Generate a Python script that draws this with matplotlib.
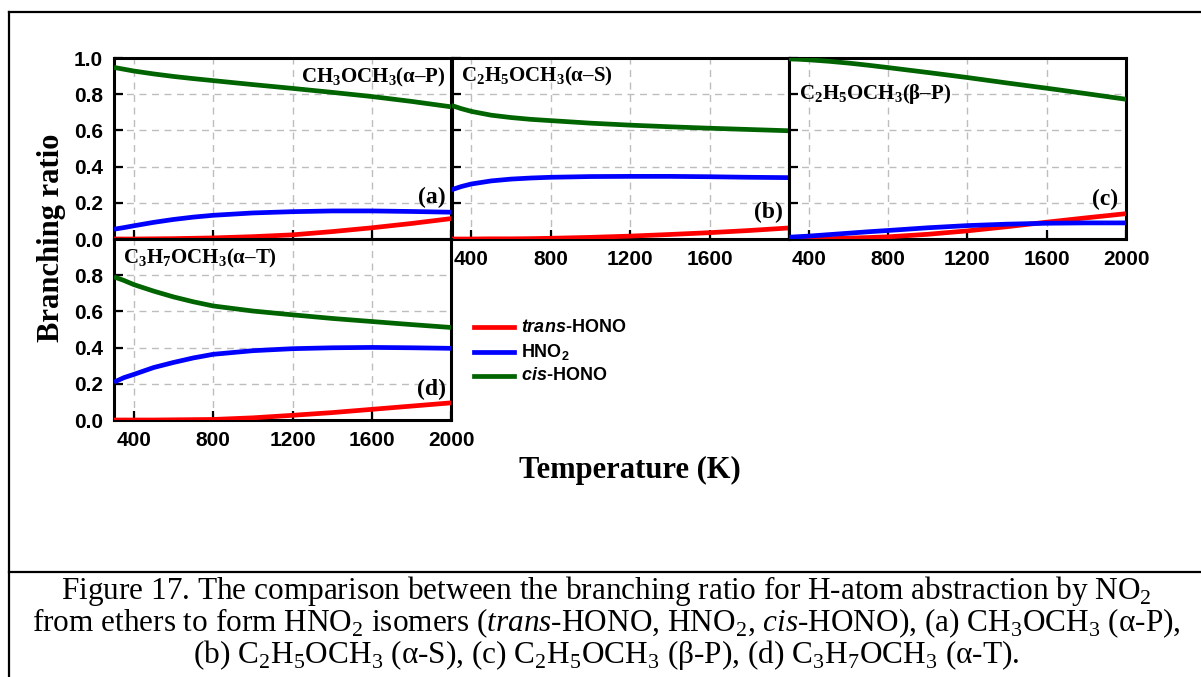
import matplotlib

matplotlib.use("Agg")
import matplotlib.pyplot as plt
from matplotlib.lines import Line2D

plt.rcParams.update(
    {
        "font.family": "sans-serif",
        "font.sans-serif": ["Liberation Sans", "DejaVu Sans"],
        "font.serif": ["Liberation Serif", "DejaVu Serif"],
        "mathtext.fontset": "custom",
        "mathtext.rm": "Liberation Serif",
        "mathtext.bf": "Liberation Serif:bold",
        "mathtext.sf": "Liberation Sans:bold",
        "mathtext.it": "Liberation Sans:italic:bold",
        "mathtext.tt": "Liberation Serif:italic",
    }
)

W, H = 1201, 677

# Temperature grid (K) and branching ratios for each abstraction site
TEMPS = [300, 350, 400, 500, 600, 700, 800, 1000, 1200, 1400, 1600, 1800, 2000]

A_TRANS = [0.0, 0.0, 0.0, 0.001, 0.002, 0.004, 0.006, 0.013, 0.023, 0.041, 0.062, 0.086, 0.113]
A_HNO2 = [0.054, 0.063, 0.073, 0.092, 0.108, 0.121, 0.131, 0.144, 0.151, 0.155, 0.155, 0.152, 0.148]
A_CIS = [0.948, 0.938, 0.928, 0.912, 0.898, 0.886, 0.875, 0.853, 0.832, 0.810, 0.787, 0.760, 0.730]

B_TRANS = [0.0, 0.0, 0.0, 0.001, 0.001, 0.002, 0.004, 0.009, 0.016, 0.025, 0.035, 0.047, 0.061]
B_HNO2 = [0.272, 0.290, 0.304, 0.321, 0.331, 0.337, 0.341, 0.345, 0.346, 0.346, 0.344, 0.341, 0.339]
B_CIS = [0.738, 0.720, 0.705, 0.684, 0.671, 0.661, 0.654, 0.640, 0.629, 0.620, 0.612, 0.605, 0.598]

C_TRANS = [0.0, 0.0, 0.001, 0.002, 0.005, 0.008, 0.012, 0.026, 0.045, 0.068, 0.093, 0.117, 0.140]
C_HNO2 = [0.010, 0.013, 0.016, 0.024, 0.032, 0.040, 0.047, 0.062, 0.074, 0.082, 0.087, 0.089, 0.089]
C_CIS = [0.995, 0.993, 0.990, 0.982, 0.972, 0.960, 0.947, 0.920, 0.892, 0.862, 0.833, 0.803, 0.772]

D_TRANS = [0.0, 0.0, 0.0, 0.0, 0.001, 0.002, 0.003, 0.012, 0.026, 0.041, 0.059, 0.077, 0.095]
D_HNO2 = [0.209, 0.234, 0.252, 0.290, 0.318, 0.343, 0.363, 0.383, 0.394, 0.399, 0.401, 0.399, 0.396]
D_CIS = [0.791, 0.771, 0.748, 0.712, 0.680, 0.653, 0.630, 0.602, 0.581, 0.561, 0.544, 0.527, 0.511]

SPECIES = [r"$\mathit{trans}$-HONO", r"HNO$_\mathsf{2}$", r"$\mathit{cis}$-HONO"]
COLORS = ["#FF0000", "#0000FF", "#006400"]

PANEL_NAMES = [
    r"CH$_\mathbf{3}$OCH$_\mathbf{3}$(α–P)",
    r"C$_\mathbf{2}$H$_\mathbf{5}$OCH$_\mathbf{3}$(α–S)",
    r"C$_\mathbf{2}$H$_\mathbf{5}$OCH$_\mathbf{3}$(β–P)",
    r"C$_\mathbf{3}$H$_\mathbf{7}$OCH$_\mathbf{3}$(α–T)",
]
PANEL_TAGS = ["(a)", "(b)", "(c)", "(d)"]

X_TICKS = [400, 800, 1200, 1600, 2000]
Y_TICKS = [0.0, 0.2, 0.4, 0.6, 0.8, 1.0]

CAPTION = [
    r"Figure 17. The comparison between the branching ratio for H-atom abstraction by NO$_2$",
    r"from ethers to form HNO$_2$ isomers ($\mathtt{trans}$-HONO, HNO$_2$, $\mathtt{cis}$-HONO), "
    r"(a) CH$_3$OCH$_3$ (α-P),",
    r"(b) C$_2$H$_5$OCH$_3$ (α-S), (c) C$_2$H$_5$OCH$_3$ (β-P), (d) C$_3$H$_7$OCH$_3$ (α-T).",
]

SERIF_BOLD = dict(family="serif", fontweight="bold")


def px_rect(left, top, right, bottom):
    return [left / W, 1 - bottom / H, (right - left) / W, (bottom - top) / H]


fig = plt.figure(figsize=(W / 100, H / 100), dpi=100)

# outer frame and caption separator
frame = dict(color="black", linewidth=1.6, transform=fig.transFigure)
fig.add_artist(Line2D([9 / W, 9 / W], [0, 1 - 12 / H], **frame))
fig.add_artist(Line2D([9 / W, 1], [1 - 12 / H, 1 - 12 / H], **frame))
fig.add_artist(Line2D([9 / W, 1], [1 - 572 / H, 1 - 572 / H], **frame))

boxes = [
    px_rect(114, 58, 451.5, 239),
    px_rect(451.5, 58, 789, 239),
    px_rect(789, 58, 1126, 239),
    px_rect(114, 239, 451.5, 420),
]
panel_data = [
    (A_TRANS, A_HNO2, A_CIS),
    (B_TRANS, B_HNO2, B_CIS),
    (C_TRANS, C_HNO2, C_CIS),
    (D_TRANS, D_HNO2, D_CIS),
]
name_pos = [(0.982, 0.89, "right"), (0.027, 0.90, "left"), (0.030, 0.80, "left"), (0.027, 0.895, "left")]
tag_pos = [(0.982, 0.232), (0.982, 0.144), (0.978, 0.22), (0.985, 0.17)]

axes = []
for i, box in enumerate(boxes):
    ax = fig.add_axes(box)
    for series, color in zip(panel_data[i], COLORS):
        ax.plot(TEMPS, series, color=color, linewidth=3.4, solid_capstyle="butt", zorder=3)
    ax.set_xlim(300, 2000)
    ax.set_ylim(0, 1.0)
    ax.set_xticks(X_TICKS)
    ax.set_yticks(Y_TICKS)
    ax.grid(True, color="#BDBDBD", linestyle=(0, (5, 4)), linewidth=1.0, zorder=0)
    ax.tick_params(direction="in", length=6.5, width=1.6, labelsize=15, pad=8)
    for side in ax.spines.values():
        side.set_linewidth(2.2)
    for lab in ax.get_xticklabels() + ax.get_yticklabels():
        lab.set_fontweight("bold")

    x, y, ha = name_pos[i]
    ax.text(x, y, PANEL_NAMES[i], transform=ax.transAxes, ha=ha, va="center",
            fontsize=15, zorder=5, **SERIF_BOLD)
    tx, ty = tag_pos[i]
    ax.text(tx, ty, PANEL_TAGS[i], transform=ax.transAxes, ha="right", va="center",
            fontsize=17, zorder=5, **SERIF_BOLD)
    axes.append(ax)

ax_a, ax_b, ax_c, ax_d = axes
ax_a.tick_params(labelbottom=False)
ax_b.tick_params(labelleft=False)
ax_c.tick_params(labelleft=False)
ax_b.set_xticklabels([str(t) for t in X_TICKS[:-1]] + [""])
for lab in ax_b.get_xticklabels():
    lab.set_fontweight("bold")
ax_d.set_yticks(Y_TICKS)
ax_d.set_yticklabels([f"{v:.1f}" for v in Y_TICKS[:-1]] + [""])
for lab in ax_d.get_yticklabels():
    lab.set_fontweight("bold")

fig.text(52 / W, 1 - 238 / H, "Branching ratio", rotation=90, ha="center", va="center",
         fontsize=22, **SERIF_BOLD)
fig.text(630 / W, 1 - 470 / H, "Temperature (K)", ha="center", va="center",
         fontsize=22, **SERIF_BOLD)

# legend built from the plotted series colours
for row, (label, color) in enumerate(zip(SPECIES, COLORS)):
    yy = 1 - (327 + 24.5 * row) / H
    fig.add_artist(Line2D([474 / W, 514 / W], [yy, yy], color=color, linewidth=3.4,
                          transform=fig.transFigure))
    fig.text(521 / W, yy, label, ha="left", va="center", fontsize=13, fontweight="bold")

for k, line in enumerate(CAPTION):
    fig.text(606 / W, 1 - (591 + 32 * k) / H, line, ha="center", va="center",
             fontsize=22.5, family="serif")

fig.savefig("out.png", dpi=100)
